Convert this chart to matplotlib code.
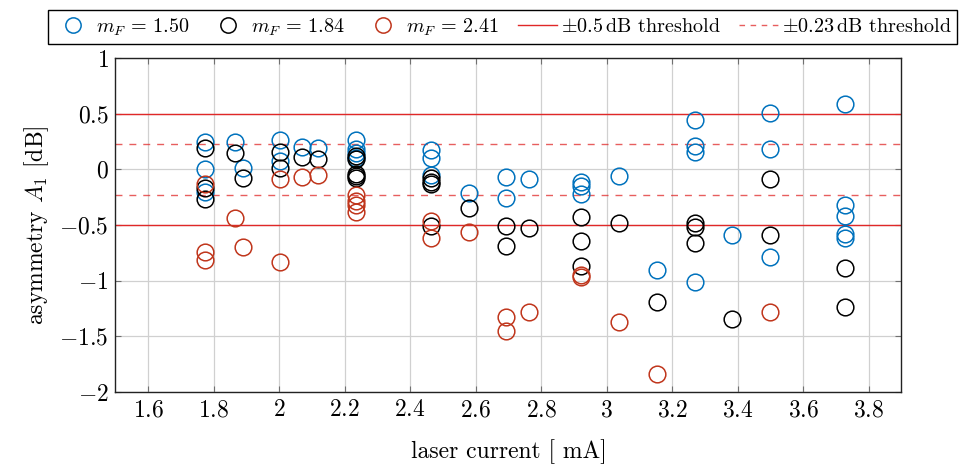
import matplotlib.pyplot as plt
from matplotlib.lines import Line2D

plt.rcParams['font.family'] = 'serif'
plt.rcParams['font.serif'] = ['cmr10', 'DejaVu Serif']
plt.rcParams['mathtext.fontset'] = 'cm'
plt.rcParams['axes.unicode_minus'] = False

# m_F = 1.50
blue_x = [1.775, 1.775, 1.775, 1.865, 1.888, 2.002, 2.002, 2.071, 2.119,
          2.234, 2.234, 2.234, 2.234, 2.463, 2.463, 2.463, 2.579, 2.694, 2.694,
          2.762, 2.923, 2.923, 2.923, 3.038, 3.154, 3.269, 3.269, 3.269, 3.269,
          3.384, 3.498, 3.498, 3.498, 3.729, 3.729, 3.729, 3.729, 3.729]
blue_y = [0.25, 0.0, -0.20, 0.25, 0.015, 0.26, 0.08, 0.20, 0.19,
          0.26, 0.18, 0.15, 0.10, 0.17, 0.10, -0.05, -0.21, -0.07, -0.26,
          -0.09, -0.11, -0.15, -0.22, -0.06, -0.90, 0.44, 0.21, 0.16, -1.01,
          -0.59, 0.51, 0.18, -0.79, 0.59, -0.32, -0.42, -0.58, -0.62]

# m_F = 1.84
black_x = [1.775, 1.775, 1.775, 1.865, 1.888, 2.002, 2.002, 2.071, 2.119,
           2.234, 2.234, 2.234, 2.234, 2.234, 2.463, 2.463, 2.463, 2.463,
           2.579, 2.694, 2.694, 2.762, 2.923, 2.923, 2.923, 3.038, 3.154,
           3.269, 3.269, 3.269, 3.384, 3.498, 3.498, 3.729, 3.729]
black_y = [0.19, -0.17, -0.27, 0.15, -0.08, 0.16, 0.01, 0.11, 0.09,
           0.12, 0.095, -0.04, -0.06, -0.08, -0.08, -0.11, -0.13, -0.51,
           -0.345, -0.51, -0.69, -0.53, -0.43, -0.645, -0.865, -0.48, -1.19,
           -0.48, -0.52, -0.66, -1.34, -0.09, -0.585, -0.89, -1.24]

# m_F = 2.41
red_x = [1.775, 1.775, 1.775, 1.865, 1.888, 2.002, 2.002, 2.071, 2.119,
         2.234, 2.234, 2.234, 2.234, 2.463, 2.463, 2.579, 2.694, 2.694,
         2.762, 2.923, 2.923, 3.038, 3.154, 3.498]
red_y = [-0.13, -0.74, -0.81, -0.435, -0.70, -0.085, -0.83, -0.07, -0.05,
         -0.23, -0.28, -0.32, -0.38, -0.46, -0.62, -0.565, -1.33, -1.45,
         -1.28, -0.95, -0.97, -1.37, -1.84, -1.28]

thresh_solid = [0.5, -0.5]
thresh_dashed = [0.23, -0.23]

x_ticks = [1.6, 1.8, 2.0, 2.2, 2.4, 2.6, 2.8, 3.0, 3.2, 3.4, 3.6, 3.8]
x_labels = ['1.6', '1.8', '2', '2.2', '2.4', '2.6', '2.8', '3', '3.2', '3.4', '3.6', '3.8']
y_ticks = [1, 0.5, 0, -0.5, -1, -1.5, -2]
y_labels = ['1', '0.5', '0', '-0.5', '-1', '-1.5', '-2']

c_blue = '#0072bd'
c_black = '#000000'
c_red = '#c0361c'
c_thr = '#e02828'

fig = plt.figure(figsize=(9.62, 4.65), dpi=100)
ax = fig.add_axes([0.120, 0.157, 0.817, 0.718])

ms = 12
for xs, ys, c in [(blue_x, blue_y, c_blue), (black_x, black_y, c_black), (red_x, red_y, c_red)]:
    ax.plot(xs, ys, 'o', ms=ms, mfc='none', mec=c, mew=1.1, zorder=3)

for v in thresh_solid:
    ax.axhline(v, color=c_thr, lw=1.0, zorder=2)
for v in thresh_dashed:
    ax.axhline(v, color=c_thr, lw=1.0, ls=(0, (5, 5)), alpha=0.75, zorder=2)

ax.set_xlim(1.5, 3.9)
ax.set_ylim(-2, 1)
ax.set_xticks(x_ticks)
ax.set_xticklabels(['$%s$' % s for s in x_labels])
ax.set_yticks(y_ticks)
ax.set_yticklabels(['$%s$' % s for s in y_labels])
ax.tick_params(direction='in', top=True, right=True, labelsize=17, length=4,
               color='#707070', pad=5)
ax.grid(True, color='#d0d0d0', lw=0.9, zorder=0)
ax.set_axisbelow(True)
for sp in ax.spines.values():
    sp.set_linewidth(1.0)
    sp.set_color('#222222')

ax.set_xlabel('laser current [ mA]', fontsize=17, labelpad=13)
ax.set_ylabel('asymmetry $A_1$ [dB]', fontsize=17, labelpad=6)

handles = [
    Line2D([], [], ls='none', marker='o', ms=11, mfc='none', mec=c_blue, mew=1.1),
    Line2D([], [], ls='none', marker='o', ms=11, mfc='none', mec=c_black, mew=1.1),
    Line2D([], [], ls='none', marker='o', ms=11, mfc='none', mec=c_red, mew=1.1),
    Line2D([], [], color=c_thr, lw=1.0),
    Line2D([], [], color=c_thr, lw=1.0, ls=(0, (4, 4)), alpha=0.75),
]
labels = [r'$m_F\, =\, 1.50$', r'$m_F\, =\, 1.84$', r'$m_F\, =\, 2.41$',
          r'$\pm0.5\,\mathrm{dB}$ threshold', r'$\pm0.23\,\mathrm{dB}$ threshold']
leg = fig.legend(handles, labels, loc='upper center', bbox_to_anchor=(0.5225, 0.978),
                 ncol=5, fontsize=14.5, frameon=True, fancybox=False,
                 edgecolor='black', framealpha=1, handlelength=1.9,
                 handletextpad=0.2, columnspacing=0.95, borderpad=0.3,
                 borderaxespad=0.0)
leg.get_frame().set_linewidth(1.0)

fig.savefig('out.png', dpi=100)
